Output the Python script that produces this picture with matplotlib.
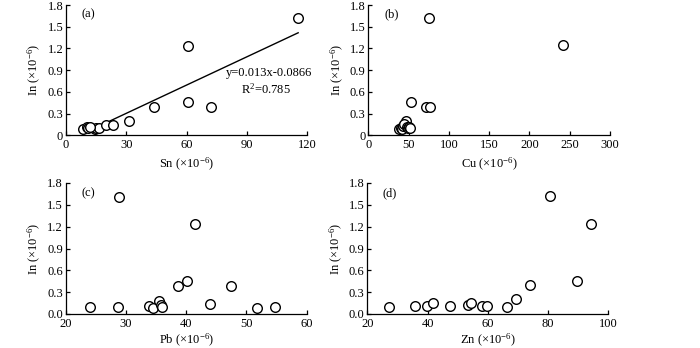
import matplotlib
matplotlib.use("Agg")
import matplotlib.pyplot as plt
import numpy as np

plt.rcParams['font.family'] = ['Liberation Serif', 'DejaVu Serif']
plt.rcParams['mathtext.fontset'] = 'custom'
plt.rcParams['mathtext.rm'] = 'Liberation Serif'
plt.rcParams['mathtext.it'] = 'Liberation Serif:italic'

# Panel (a): Sn vs In
sn_x = [8.3, 10.3, 10.8, 14.4, 15.0, 16.3, 20.0, 23.3, 31.2, 43.9, 60.6, 60.6, 72.0, 115.6, 12.0]
sn_y = [0.087, 0.12, 0.10, 0.087, 0.10, 0.105, 0.14, 0.14, 0.195, 0.39, 0.46, 1.24, 0.39, 1.62, 0.11]
fit_slope = 0.013
fit_intercept = -0.0866

# Panel (b): Cu vs In
cu_x = [75.3, 241.6, 52.5, 72.0, 76.5, 46.3, 38.5, 40.1, 41.8, 42.6, 44.3, 47.6, 49.6, 50.9, 51.7]
cu_y = [1.625, 1.243, 0.46, 0.396, 0.396, 0.198, 0.087, 0.097, 0.083, 0.129, 0.157, 0.12, 0.106, 0.115, 0.10]

# Panel (c): Pb vs In
pb_x = [24.1, 28.6, 28.8, 33.8, 34.5, 35.5, 35.8, 36.0, 38.7, 40.1, 41.4, 43.9, 47.4, 51.7, 54.7]
pb_y = [0.092, 0.092, 1.61, 0.105, 0.08, 0.18, 0.13, 0.09, 0.385, 0.45, 1.23, 0.137, 0.385, 0.08, 0.092]

# Panel (d): Zn vs In
zn_x = [27.1, 35.7, 39.7, 41.8, 47.4, 53.3, 54.4, 58.2, 59.9, 66.5, 69.3, 74.1, 80.8, 89.6, 94.4]
zn_y = [0.092, 0.105, 0.105, 0.147, 0.105, 0.119, 0.151, 0.105, 0.105, 0.092, 0.20, 0.40, 1.62, 0.46, 1.24]

yticks = [0, 0.3, 0.6, 0.9, 1.2, 1.5, 1.8]
ylabels_ab = ['0', '0.3', '0.6', '0.9', '1.2', '1.5', '1.8']
ylabels_cd = ['0.0', '0.3', '0.6', '0.9', '1.2', '1.5', '1.8']

fig = plt.figure(figsize=(7.0, 3.48), dpi=100)

W, H = 700.0, 348.0
def mkax(x0, x1, ytop, ybot):
    return fig.add_axes([x0 / W, 1 - ybot / H, (x1 - x0) / W, (ybot - ytop) / H])

axa = mkax(66, 307, 5, 135.3)
axb = mkax(368.3, 610, 5, 135.3)
axc = mkax(65.7, 306.7, 183, 314)
axd = mkax(367.3, 608.3, 183, 314)

panels = [
    (axa, sn_x, sn_y, (0, 120), [0, 30, 60, 90, 120], ylabels_ab, 'Sn', '(a)', 3),
    (axb, cu_x, cu_y, (0, 300), [0, 50, 100, 150, 200, 250, 300], ylabels_ab, 'Cu', '(b)', 3),
    (axc, pb_x, pb_y, (20, 60), [20, 30, 40, 50, 60], ylabels_cd, 'Pb', '(c)', 1),
    (axd, zn_x, zn_y, (20, 100), [20, 40, 60, 80, 100], ylabels_cd, 'Zn', '(d)', 1),
]

for ax, xs, ys, xlim, xt, ylab, el, tag, lp in panels:
    ax.scatter(xs, ys, s=48, facecolors='white', edgecolors='black', linewidths=1.0, zorder=3, clip_on=False)
    ax.set_xlim(*xlim)
    ax.set_ylim(0, 1.8)
    ax.set_xticks(xt)
    ax.set_yticks(yticks)
    ax.set_yticklabels(ylab)
    for s in ['top', 'right']:
        ax.spines[s].set_visible(False)
    for s in ['left', 'bottom']:
        ax.spines[s].set_linewidth(0.9)
    ax.tick_params(direction='in', length=3, width=0.9, labelsize=9, pad=2)
    ax.tick_params(axis='x', pad=3)
    ax.set_xlabel(el + r' ($\times$10$^{-6}$)', fontsize=9, labelpad=lp)
    ax.set_ylabel(r'In ($\times$10$^{-6}$)', fontsize=9, labelpad=3)
    ax.text(0.065, 0.925, tag, transform=ax.transAxes, fontsize=9, ha='left', va='center')

# regression line in (a)
xl = np.array([min(sn_x), max(sn_x)])
axa.plot(xl, fit_slope * xl + fit_intercept, color='black', lw=1.0, zorder=2)
axa.text(0.665, 0.475, 'y=0.013x-0.0866', transform=axa.transAxes, fontsize=9, ha='left', va='center')
axa.text(0.83, 0.35, r'R$^2$=0.785', transform=axa.transAxes, fontsize=9, ha='center', va='center')

fig.savefig('out.png', dpi=100)
